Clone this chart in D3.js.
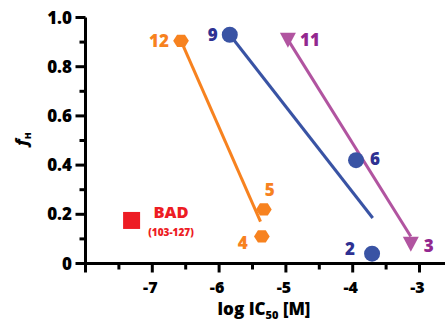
<!DOCTYPE html>
<html>
<head>
<meta charset="utf-8">
<script src="https://cdn.jsdelivr.net/npm/d3@7"></script>
<style>
  body { margin: 0; background: #fff; }
  text { font-family: "Open Sans", "DejaVu Sans", sans-serif; font-weight: 800; }
</style>
</head>
<body>
<svg id="chart" width="445" height="322"></svg>
<script>
// series: [logIC50, fH, label]
var orangePts = [[-6.57, 0.905, "12"], [-5.33, 0.22, "5"], [-5.36, 0.11, "4"]];
var bluePts   = [[-5.84, 0.93, "9"], [-3.95, 0.42, "6"], [-3.71, 0.04, "2"]];
var purplePts = [[-4.97, 0.91, "11"], [-3.13, 0.08, "3"]];
var badPt     = [-7.31, 0.175];

// fitted lines (start, end)
var orangeFit = [[-6.57, 0.905], [-5.38, 0.17]];
var blueFit   = [[-5.84, 0.93], [-3.70, 0.185]];
var purpleFit = [[-4.97, 0.91], [-3.13, 0.11]];

var xTicks = [-7, -6, -5, -4, -3];
var xMinor = [-7.5, -6.5, -5.5, -4.5, -3.5, -2.5];
var yTicks = [0, 0.2, 0.4, 0.6, 0.8, 1.0];
var yMinor = [0.1, 0.3, 0.5, 0.7, 0.9];

var ORANGE = "#f7821f", BLUE = "#3953a4", NAVY = "#2e3192",
    PURPLE = "#b154a0", PURPLE_T = "#92278f", RED = "#ed1c24";

var svg = d3.select("#chart");

var x = d3.scaleLinear().domain([-8, -3]).range([85.5, 419.5]),
    y = d3.scaleLinear().domain([0, 1]).range([263.5, 17.5]);

var axisG = svg.append("g")
  .attr("stroke", "#000").attr("stroke-width", 3).attr("fill", "none");

/* axes lines */
axisG.append("line").attr("x1", x(-8)).attr("x2", 445).attr("y1", y(0)).attr("y2", y(0));
axisG.append("line").attr("x1", x(-8)).attr("x2", x(-8)).attr("y1", y(1)).attr("y2", y(0) + 9);

axisG.selectAll(".yt").data(yTicks).enter().append("line")
  .attr("x1", x(-8) - 10).attr("x2", x(-8))
  .attr("y1", function(d) { return y(d); }).attr("y2", function(d) { return y(d); });
axisG.selectAll(".ym").data(yMinor).enter().append("line")
  .attr("x1", x(-8) - 6).attr("x2", x(-8))
  .attr("y1", function(d) { return y(d); }).attr("y2", function(d) { return y(d); });

axisG.selectAll(".xt").data(xTicks).enter().append("line")
  .attr("x1", function(d) { return x(d); }).attr("x2", function(d) { return x(d); })
  .attr("y1", y(0)).attr("y2", y(0) + 9);
axisG.selectAll(".xm").data(xMinor).enter().append("line")
  .attr("x1", function(d) { return x(d); }).attr("x2", function(d) { return x(d); })
  .attr("y1", y(0)).attr("y2", y(0) + 6);

/* tick labels */
svg.selectAll(".yl").data(yTicks).enter().append("text")
  .attr("x", 72).attr("y", function(d) { return y(d) + 6; })
  .attr("text-anchor", "end").attr("font-size", 17)
  .text(function(d) { return d === 0 ? "0" : d3.format(".1f")(d); });

svg.selectAll(".xl").data(xTicks).enter().append("text")
  .attr("x", function(d) { return x(d) - 2; }).attr("y", 293)
  .attr("text-anchor", "middle").attr("font-size", 16)
  .text(function(d) { return d3.format("")(d).replace("\u2212", "-"); });

/* axis titles */
var xt = svg.append("text").attr("x", 264).attr("y", 315)
  .attr("text-anchor", "middle").attr("font-size", 17);
xt.append("tspan").text("log IC");
xt.append("tspan").attr("font-size", 11).attr("dy", 4).text("50");
xt.append("tspan").attr("dy", -4).text(" [M]");

var yt = svg.append("text").attr("transform", "translate(27,139) rotate(-90)")
  .attr("text-anchor", "middle").attr("font-size", 16);
yt.append("tspan").attr("font-style", "italic").text("f");
yt.append("tspan").attr("font-size", 9).attr("dy", 4).text("H");

/* fit lines */
var line = d3.line().x(function(d) { return x(d[0]); }).y(function(d) { return y(d[1]); });
[[orangeFit, ORANGE], [blueFit, BLUE], [purpleFit, PURPLE]].forEach(function(s) {
  svg.append("path").attr("d", line(s[0])).attr("fill", "none")
    .attr("stroke", s[1]).attr("stroke-width", 3);
});

/* markers */
var hex = d3.symbol().type({
  draw: function(ctx, size) {
    var r = Math.sqrt(size / 2.598);
    for (var i = 0; i < 6; i++) {
      var a = Math.PI / 3 * i;
      ctx[i ? "lineTo" : "moveTo"](r * Math.cos(a), r * Math.sin(a) * 0.9);
    }
    ctx.closePath();
  }
}).size(160);

svg.selectAll(".hex").data(orangePts).enter().append("path")
  .attr("d", hex).attr("fill", ORANGE)
  .attr("transform", function(d) { return "translate(" + x(d[0]) + "," + y(d[1]) + ")"; });

svg.selectAll(".circ").data(bluePts).enter().append("circle")
  .attr("cx", function(d) { return x(d[0]); }).attr("cy", function(d) { return y(d[1]); })
  .attr("r", 8).attr("fill", BLUE);

svg.selectAll(".tri").data(purplePts).enter().append("path")
  .attr("d", "M-8,-7L8,-7L0,8Z").attr("fill", PURPLE)
  .attr("transform", function(d) { return "translate(" + x(d[0]) + "," + y(d[1]) + ")"; });

svg.append("rect").attr("x", x(badPt[0]) - 8.5).attr("y", y(badPt[1]) - 8.5)
  .attr("width", 17).attr("height", 17).attr("fill", RED);

/* point labels */
var lblOff = { "12": [-22, 6, ORANGE], "5": [6, -13, ORANGE], "4": [-19, 13, ORANGE],
               "9": [-17, 6, NAVY], "6": [19, 5, NAVY], "2": [-22, 1, NAVY],
               "11": [22, 6, PURPLE_T], "3": [18, 8, PURPLE_T] };
var allPts = orangePts.concat(bluePts, purplePts);
svg.selectAll(".pl").data(allPts).enter().append("text")
  .attr("x", function(d) { return x(d[0]) + lblOff[d[2]][0]; })
  .attr("y", function(d) { return y(d[1]) + lblOff[d[2]][1]; })
  .attr("text-anchor", "middle").attr("font-size", 17)
  .attr("fill", function(d) { return lblOff[d[2]][2]; })
  .text(function(d) { return d[2]; });

svg.append("text").attr("x", 171).attr("y", 218).attr("text-anchor", "middle")
  .attr("font-size", 16.5).attr("fill", RED).text("BAD");
svg.append("text").attr("x", 171).attr("y", 235.5).attr("text-anchor", "middle")
  .attr("font-size", 10).attr("fill", RED).text("(103-127)");
</script>
</body>
</html>
